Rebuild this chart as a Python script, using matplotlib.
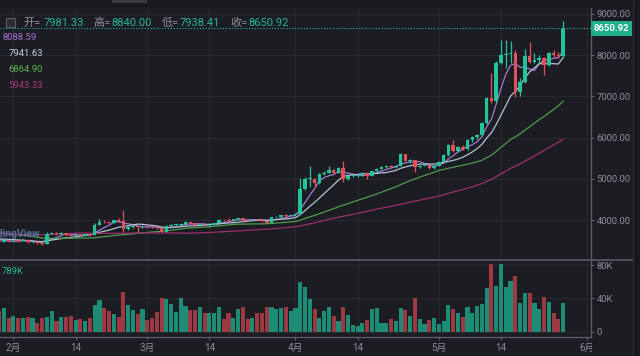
import numpy as np
import pandas as pd
import matplotlib
matplotlib.use('Agg')
import matplotlib.pyplot as plt
from matplotlib.transforms import blended_transform_factory
from matplotlib.patches import Rectangle
from matplotlib.lines import Line2D

plt.rcParams['font.family'] = ['Roboto', 'Noto Sans CJK SC', 'DejaVu Sans']

# ---------------- data ----------------
start_date = '2019-01-29'

opens = [3500, 3470, 3505, 3480, 3500, 3485, 3525, 3460, 3475, 3430,
         3420, 3665, 3690, 3655, 3680, 3635, 3620, 3645, 3615, 3650,
         3640, 3890, 3960, 3945, 3935, 3990, 3980, 3790, 3835, 3850,
         3820, 3840, 3830, 3820, 3800, 3720, 3860, 3875, 3890, 3900,
         3950, 3925, 3875, 3890, 3870, 3880, 3920, 4010, 3990, 3980,
         4015, 4050, 3990, 3985, 4010, 4000, 3975, 3935, 4065, 4075,
         4120, 4105, 4115, 4150, 4760, 4990, 5000, 4900, 5110, 5150,
         5210, 5150, 5260, 5000, 5070, 5080, 5090, 5150, 5080, 5180,
         5250, 5290, 5320, 5280, 5310, 5590, 5430, 5450, 5290, 5320,
         5340, 5260, 5320, 5410, 5580, 5820, 5680, 5780, 5720, 5940,
         6010, 6060, 6350, 6960, 6880, 7810, 8000, 8030, 8050, 7100,
         7350, 7980, 7840, 7880, 7930, 7760, 8050, 8000, 7981.33]
highs = [3510, 3520, 3525, 3515, 3520, 3540, 3530, 3490, 3480, 3440,
         3720, 3700, 3700, 3700, 3685, 3650, 3660, 3655, 3660, 3670,
         3930, 4020, 3990, 3960, 4000, 4040, 4250, 3850, 3870, 3860,
         3880, 3860, 3845, 3830, 3810, 3880, 3900, 3910, 3930, 3970,
         3955, 3930, 3900, 3895, 3920, 3930, 4030, 4015, 4040, 4030,
         4060, 4060, 4010, 4020, 4020, 4005, 3980, 4080, 4090, 4130,
         4150, 4130, 4160, 5020, 5040, 5310, 5020, 5140, 5180, 5300,
         5230, 5280, 5430, 5090, 5100, 5110, 5170, 5170, 5200, 5270,
         5310, 5340, 5330, 5340, 5620, 5610, 5470, 5460, 5340, 5360,
         5350, 5340, 5420, 5600, 5850, 5940, 5800, 5830, 5960, 6030,
         6080, 6380, 6990, 7570, 7850, 8370, 8370, 8350, 8120, 7450,
         8150, 8320, 8050, 8000, 7960, 8080, 8120, 8070, 8840.00]
lows = [3450, 3455, 3470, 3465, 3470, 3480, 3450, 3450, 3410, 3400,
        3410, 3650, 3640, 3645, 3620, 3600, 3610, 3600, 3610, 3620,
        3630, 3870, 3920, 3920, 3930, 3960, 3700, 3760, 3810, 3700,
        3800, 3815, 3800, 3790, 3700, 3710, 3840, 3860, 3850, 3890,
        3900, 3860, 3845, 3850, 3840, 3870, 3910, 3970, 3960, 3975,
        4000, 3970, 3975, 3980, 3990, 3960, 3920, 3930, 4050, 4060,
        4080, 4095, 4100, 4140, 4740, 4800, 4800, 4880, 5090, 5130,
        5120, 5140, 4920, 4960, 5040, 5050, 5070, 4990, 5070, 5160,
        5230, 5270, 5260, 5260, 5300, 5420, 5380, 5160, 5260, 5300,
        5230, 5240, 5300, 5390, 5560, 5650, 5640, 5700, 5700, 5900,
        5960, 6040, 6330, 6850, 6860, 7780, 7700, 7800, 6980, 7000,
        7320, 7800, 7800, 7780, 7520, 7740, 7960, 7940, 7938.41]
closes = [3470, 3505, 3480, 3500, 3485, 3525, 3460, 3475, 3430, 3420,
          3665, 3690, 3655, 3680, 3635, 3620, 3645, 3615, 3650, 3640,
          3890, 3960, 3945, 3935, 3990, 3980, 3790, 3835, 3850, 3820,
          3840, 3830, 3820, 3800, 3720, 3860, 3875, 3890, 3900, 3950,
          3925, 3875, 3890, 3870, 3880, 3920, 4010, 3990, 3980, 4015,
          4050, 3990, 3985, 4010, 4000, 3975, 3935, 4065, 4075, 4120,
          4105, 4115, 4150, 4760, 4990, 5000, 4900, 5110, 5150, 5210,
          5150, 5260, 5000, 5070, 5080, 5090, 5150, 5080, 5180, 5250,
          5290, 5320, 5280, 5310, 5590, 5430, 5450, 5290, 5320, 5340,
          5260, 5320, 5410, 5580, 5820, 5680, 5780, 5720, 5940, 6010,
          6060, 6350, 6950, 6880, 7810, 8000, 8030, 8050, 7100, 7350,
          7980, 7840, 7880, 7930, 7760, 8050, 8000, 7981.33, 8650.92]
volumes_k = [25, 29, 16, 19, 16, 16, 18, 16, 10, 16,
             18, 25, 13, 18, 18, 19, 14, 15, 13, 16,
             32, 38, 28, 25, 21, 18, 48, 32, 26, 21,
             27, 14, 17, 24, 41, 39, 33, 24, 40, 31,
             26, 26, 30, 23, 23, 23, 30, 15, 22, 17,
             27, 30, 15, 17, 22, 22, 30, 30, 27, 28,
             30, 25, 28, 60, 54, 39, 27, 16, 25, 30,
             19, 13, 30, 20, 8, 7, 11, 14, 27, 29,
             10, 10, 15, 13, 29, 26, 19, 40, 15, 9,
             14, 17, 9, 13, 32, 27, 22, 18, 30, 23,
             31, 33, 53, 81, 55, 81, 54, 61, 67, 35,
             46, 46, 34, 27, 42, 36, 22, 15, 34]
# closes before the visible window (only used for the moving averages)
prior_closes = [4020,
                4210, 4140, 3850, 3960, 3760, 3500, 3400, 3420, 3600, 3480,
                3420, 3480, 3270, 3200, 3190, 3230, 3540, 3680, 3830, 4140,
                3880, 4000, 3950, 4040, 3760, 3790, 3600, 3880, 3720, 3830, 3700,
                3810, 3880, 3760, 3800, 3800, 4040, 4000, 3990, 4000, 3620,
                3630, 3610, 3510, 3660, 3590, 3620, 3660, 3610, 3700, 3540,
                3540, 3580, 3560, 3580, 3570, 3570, 3540, 3460]

ma_periods = [5, 10, 30, 60]
ma_labels = ['8088.59', '7941.63', '6864.90', '5943.33']
price_ticks = [4000, 5000, 6000, 7000, 8000, 9000]
volume_ticks = [0, 40, 80]
volume_tick_labels = ['0', '40K', '80K']
date_ticks = ['2019-02-01', '2019-02-14', '2019-03-01', '2019-03-14', '2019-04-01',
              '2019-04-14', '2019-05-01', '2019-05-14', '2019-06-01']
date_tick_labels = ['2月', '14', '3月', '14', '4月', '14', '5月', '14', '6月']
header_labels = ['开=', '高=', '低=', '收=']
volume_label = '789K'
watermark = 'TradingView'

# ---------------- style ----------------
BG = '#1c1d22'
GRID = '#292a30'
AXIS = '#5e6067'
TXT = '#8b8e96'
UP = '#26c29a'
DOWN = '#e5505a'
VUP = '#1d8c75'
VDOWN = '#9c3a43'
TEAL = '#27b693'
MA_COLORS = ['#a27ad6', '#b3c0d6', '#4f9a50', '#9a2f6d']
MA_LABEL_COLORS = ['#a86fd6', '#c3cde0', '#5fae55', '#b0377a']

W, H = 640, 356
def fx(px):
    return px / W
def fy(py):
    return 1 - py / H

fig = plt.figure(figsize=(6.4, 3.56), dpi=100, facecolor=BG)
ax = fig.add_axes([0, fy(259.5), fx(591), (259.5 - 8) / H], facecolor=BG)
axv = fig.add_axes([0, fy(337), fx(591), (337 - 260) / H], facecolor=BG)

n = len(closes)
x = np.arange(n)
o = np.array(opens, float)
h = np.array(highs, float)
l = np.array(lows, float)
c = np.array(closes, float)
up = c >= o
cols = np.where(up, UP, DOWN)
vcols = np.where(up, VUP, VDOWN)

# candles
ax.vlines(x, l, h, colors=cols, linewidth=0.9, zorder=3)
body_bottom = np.minimum(o, c)
body_h = np.maximum(np.abs(c - o), 18)
ax.bar(x, body_h, bottom=body_bottom, width=0.74, color=cols, linewidth=0, zorder=4)

# moving averages
full = pd.Series(prior_closes + closes, dtype=float)
for p, col in zip(ma_periods, MA_COLORS):
    ma = full.rolling(p).mean().to_numpy()[len(prior_closes):]
    ax.plot(x, ma, color=col, lw=0.9, zorder=2)

# last price line
ax.axhline(c[-1], color=TEAL, lw=0.8, ls=(0, (1, 1.6)), zorder=5)

# volume
axv.bar(x, volumes_k, width=0.86, color=vcols, linewidth=0, zorder=3)

# axes cosmetics
start = pd.Timestamp(start_date)
tick_pos = [(pd.Timestamp(d) - start).days for d in date_ticks]
for a in (ax, axv):
    a.set_xlim(0.19, 123.83)
    a.set_xticks(tick_pos)
    a.grid(True, color=GRID, lw=0.7)
    a.set_axisbelow(True)
    for s in ('top', 'left', 'bottom'):
        a.spines[s].set_visible(False)
    a.spines['right'].set_color(AXIS)
    a.spines['right'].set_linewidth(0.9)
    a.yaxis.tick_right()

ax.set_ylim(3041.3, 9145.6)
ax.set_yticks(price_ticks)
ax.set_yticklabels([f'{v:.2f}' for v in price_ticks])
ax.tick_params(axis='x', length=0, labelbottom=False)
ax.tick_params(axis='y', colors=AXIS, labelcolor=TXT, labelsize=6.8,
               length=2.5, width=0.8, pad=1.5)

axv.set_ylim(-6.37, 86.1)
axv.set_yticks(volume_ticks)
axv.set_yticklabels(volume_tick_labels)
axv.spines['bottom'].set_visible(True)
axv.spines['bottom'].set_color(AXIS)
axv.spines['bottom'].set_linewidth(0.9)
axv.set_xticklabels(date_tick_labels)
axv.tick_params(axis='x', colors=AXIS, labelcolor=TXT, labelsize=7,
                length=2.5, width=0.8, pad=1.5)
axv.tick_params(axis='y', colors=AXIS, labelcolor=TXT, labelsize=6.8,
                length=2.5, width=0.8, pad=1.5)

# last price label on the axis
trans = blended_transform_factory(ax.transAxes, ax.transData)
ax.text(1.0 + 2.5 / 591, c[-1], f'{c[-1]:.2f}', transform=trans, ha='left', va='center',
        color='white', fontsize=6.8, fontweight='bold', clip_on=False, zorder=6,
        bbox=dict(boxstyle='square,pad=0.28', fc='#1fae8c', ec='none'))

# frame decorations
fig.add_artist(Line2D([0, fx(632)], [fy(259.5)] * 2, color='#55575e', lw=1.3))
fig.add_artist(Rectangle((fx(632.5), 0), fx(7.5), 1, transform=fig.transFigure,
                         fc='#17181c', ec='none'))
fig.add_artist(Line2D([fx(632.5)] * 2, [0, 1], color='#2c2d33', lw=0.8))
fig.add_artist(Rectangle((fx(591.6), 0), fx(40.5), 18 / H, transform=fig.transFigure,
                         fc=BG, ec='none', zorder=2))
fig.add_artist(Rectangle((0, fy(8)), 1, 8 / H, transform=fig.transFigure,
                         fc='#18191d', ec='none'))
fig.add_artist(Rectangle((fx(112), fy(3)), fx(35), 3 / H, transform=fig.transFigure,
                         fc='#3a3b41', ec='none'))
fig.add_artist(Rectangle((fx(6), fy(27)), fx(9), 9 / H, transform=fig.transFigure,
                         fc='#2b2d33', ec='#5c5e65', lw=0.8))

# header
vals = [o[-1], h[-1], l[-1], c[-1]]
label_x = [23.3, 93.3, 161.7, 230]
value_x = [43.3, 111.7, 180, 248.3]
for lab, v, lx, vx in zip(header_labels, vals, label_x, value_x):
    fig.text(fx(lx), fy(22.5), lab, color=TXT, fontsize=8, va='center', ha='left')
    fig.text(fx(vx), fy(22.5), f'{v:.2f}', color=TEAL, fontsize=8, va='center', ha='left')

# moving-average value labels
ma_pos = [(2.7, 37), (8.3, 53.3), (8.3, 70), (8.3, 86)]
for lab, col, (px, py) in zip(ma_labels, MA_LABEL_COLORS, ma_pos):
    fig.text(fx(px), fy(py), lab, color=col, fontsize=6.8, va='center', ha='left')

# volume label and watermark
fig.text(fx(1.5), fy(272), volume_label, color=TEAL, fontsize=6.8, va='center', ha='left')
fig.text(fx(40), fy(234), watermark, color='#5a80b0', alpha=0.85, fontsize=7.5,
         va='center', ha='right', fontweight='bold')

fig.savefig('out.png', dpi=100, facecolor=BG)
